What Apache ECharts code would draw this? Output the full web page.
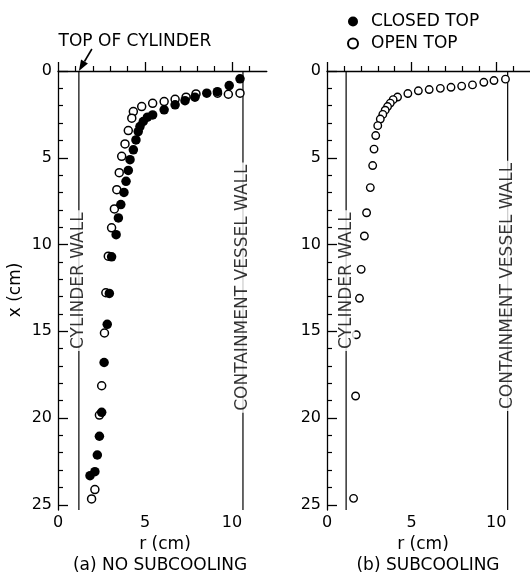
<!DOCTYPE html>
<html><head><meta charset="utf-8">
<script src="https://cdn.jsdelivr.net/npm/echarts@6/dist/echarts.min.js"></script>
<style>html,body{margin:0;padding:0;background:#fff}#c{width:530px;height:575px}</style>
</head><body><div id="c"></div>
<script>
// ---- data: [r (cm), x (cm)] ----
const closedNoSub = [[10.46,0.45],[9.84,0.84],[9.16,1.19],[8.55,1.28],[7.87,1.51],[7.3,1.71],[6.73,1.95],[6.1,2.24],[5.44,2.53],[5.14,2.66],[4.9,2.91],[4.71,3.2],[4.61,3.49],[4.48,3.97],[4.33,4.54],[4.14,5.11],[4.04,5.73],[3.91,6.36],[3.79,7.0],[3.61,7.7],[3.47,8.47],[3.34,9.43],[3.08,10.71],[2.95,12.82],[2.83,14.6],[2.65,16.8],[2.51,19.67],[2.38,21.05],[2.26,22.13],[2.12,23.09],[1.84,23.32]];
const openNoSub = [[10.46,1.28],[9.79,1.34],[9.17,1.28],[7.93,1.32],[7.36,1.51],[6.73,1.63],[6.1,1.76],[5.44,1.86],[4.81,2.05],[4.33,2.34],[4.24,2.72],[4.04,3.43],[3.85,4.2],[3.66,4.92],[3.52,5.86],[3.38,6.84],[3.24,7.95],[3.08,9.04],[2.89,10.67],[2.75,12.78],[2.67,15.1],[2.51,18.14],[2.38,19.83],[2.12,24.12],[1.93,24.66]];
const openSub = [[10.55,0.47],[9.87,0.55],[9.27,0.65],[8.6,0.8],[7.96,0.87],[7.33,0.94],[6.7,1.0],[6.04,1.07],[5.4,1.14],[4.78,1.3],[4.17,1.5],[3.91,1.65],[3.74,1.85],[3.58,2.05],[3.44,2.26],[3.3,2.5],[3.15,2.77],[3.0,3.15],[2.88,3.72],[2.78,4.5],[2.7,5.45],[2.56,6.72],[2.34,8.17],[2.21,9.51],[2.02,11.43],[1.92,13.1],[1.73,15.2],[1.69,18.73],[1.57,24.63]];
const rMajor = [0,5,10];
const rMinor = [1,2,3,4,6,7,8,9,11];
const xMajor = [0,5,10,15,20,25];
const xMinor = [1,2,3,4,6,7,8,9,11,12,13,14,16,17,18,19,21,22,23,24];
const walls = [ // [panel, r, label, label mid x]
  [0, 1.2, 'CYLINDER WALL', 12.2],
  [0, 10.63, 'CONTAINMENT VESSEL WALL', 12.6],
  [1, 1.13, 'CYLINDER WALL', 12.2],
  [1, 10.68, 'CONTAINMENT VESSEL WALL', 12.5]
];
const legendNames = ['CLOSED TOP', 'OPEN TOP'];
const R_MAX = 12, X_MAX = 25.3;

const FONT = 'DejaVu Sans';
const chart = echarts.init(document.getElementById('c'), null, {renderer: 'canvas'});
const black = '#000';

function xAxes(grid) {
  return [
    {gridIndex: grid, type: 'value', min: 0, max: R_MAX, position: 'bottom',
      axisLine: {show: true, lineStyle: {color: black, width: 1.3}},
      axisTick: {show: true, inside: true, length: 9, customValues: rMajor, lineStyle: {color: black, width: 1.3}},
      axisLabel: {show: true, customValues: rMajor, margin: 5, fontSize: 16, fontFamily: FONT, color: black},
      splitLine: {show: false}},
    {gridIndex: grid, type: 'value', min: 0, max: R_MAX, position: 'bottom',
      axisLine: {show: false},
      axisTick: {show: true, inside: true, length: 5, customValues: rMinor, lineStyle: {color: black, width: 1.2}},
      axisLabel: {show: false}, splitLine: {show: false}}
  ];
}
function yAxes(grid) {
  return [
    {gridIndex: grid, type: 'value', min: 0, max: X_MAX, inverse: true, position: 'left',
      axisLine: {show: true, lineStyle: {color: black, width: 1.3}},
      axisTick: {show: true, inside: true, length: 10, customValues: xMajor, lineStyle: {color: black, width: 1.3}},
      axisLabel: {show: true, customValues: xMajor, margin: 6, fontSize: 16, fontFamily: FONT, color: black},
      splitLine: {show: false}},
    {gridIndex: grid, type: 'value', min: 0, max: X_MAX, inverse: true, position: 'left',
      axisLine: {show: false},
      axisTick: {show: true, inside: true, length: 5, customValues: xMinor, lineStyle: {color: black, width: 1.2}},
      axisLabel: {show: false}, splitLine: {show: false}}
  ];
}

const series = [];
walls.forEach(w => {
  const xi = w[0] * 2, yi = w[0] * 2;
  series.push({type: 'line', xAxisIndex: xi, yAxisIndex: yi, data: [[w[1], 0], [w[1], X_MAX]],
    symbol: 'none', silent: true, z: 1, lineStyle: {color: black, width: 1.2}});
  series.push({type: 'scatter', xAxisIndex: xi, yAxisIndex: yi, data: [[w[1], w[3]]], symbolSize: 0,
    silent: true, z: 6,
    label: {show: true, position: 'inside', formatter: w[2], rotate: 90, offset: [2, 0],
      fontSize: 17, fontFamily: FONT, color: black, backgroundColor: '#fff', padding: [0, 2]}});
});
series.push({name: legendNames[1], type: 'scatter', xAxisIndex: 0, yAxisIndex: 0, data: openNoSub,
  symbol: 'circle', symbolSize: 8, z: 3,
  itemStyle: {color: '#fff', borderColor: black, borderWidth: 1.5, opacity: 1}});
series.push({name: legendNames[0], type: 'scatter', xAxisIndex: 0, yAxisIndex: 0, data: closedNoSub,
  symbol: 'circle', symbolSize: 9.5, z: 4, itemStyle: {color: black, opacity: 1}});
series.push({name: legendNames[1], type: 'scatter', xAxisIndex: 2, yAxisIndex: 2, data: openSub,
  symbol: 'circle', symbolSize: 7.5, z: 3,
  itemStyle: {color: '#fff', borderColor: black, borderWidth: 1.4, opacity: 1}});

chart.setOption({
  animation: false,
  backgroundColor: '#fff',
  textStyle: {fontFamily: FONT},
  grid: [
    {left: 58, top: 71, width: 208.8, height: 439, containLabel: false},
    {left: 327, top: 71, width: 207.6, height: 439, containLabel: false}
  ],
  xAxis: [...xAxes(0), ...xAxes(1)],
  yAxis: [...yAxes(0), ...yAxes(1)],
  legend: {data: legendNames, orient: 'vertical', left: 342, top: 8, itemWidth: 10, itemHeight: 10,
    itemGap: 5, icon: 'circle', selectedMode: false,
    textStyle: {fontSize: 17, fontFamily: FONT, color: black, lineHeight: 17, padding: [0, 0, 0, 8]}},
  series: series
});

// annotation text & arrow
const tip = chart.convertToPixel({gridIndex: 0}, [walls[0][1], 0]);
const sx = tip[0] + 13, sy = tip[1] - 22;
const dx = tip[0] - sx, dy = tip[1] - sy, len = Math.hypot(dx, dy);
const ux = dx / len, uy = dy / len, hl = 11, hw = 4;
const bx = tip[0] - ux * hl, by = tip[1] - uy * hl;
const txt = (x, y, t, rot) => ({type: 'text', x: x, y: y, rotation: rot || 0,
  style: {text: t, fontSize: 17, fontFamily: FONT, fill: black, align: 'center', verticalAlign: 'middle'}});
chart.setOption({graphic: [
  txt(135, 42, 'TOP OF CYLINDER'),
  {type: 'line', shape: {x1: sx, y1: sy, x2: bx, y2: by}, style: {stroke: black, lineWidth: 1.6}},
  {type: 'polygon', shape: {points: [[tip[0], tip[1]], [bx - uy * hw, by + ux * hw], [bx + uy * hw, by - ux * hw]]},
    style: {fill: black}},
  txt(165, 545, 'r (cm)'),
  txt(423, 545, 'r (cm)'),
  txt(160, 566, '(a) NO SUBCOOLING'),
  txt(428, 566, '(b) SUBCOOLING'),
  txt(16, 290, 'x (cm)', Math.PI / 2)
]});
</script></body></html>
